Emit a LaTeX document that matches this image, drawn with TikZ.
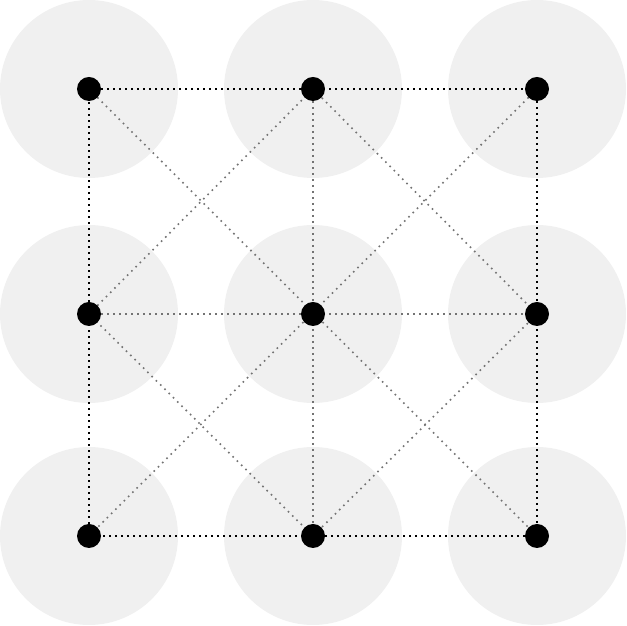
\documentclass[tikz,border=0pt]{standalone}
\begin{document}
\begin{tikzpicture}[x=1pt,y=1pt,
  halo/.style={circle,fill=black!6,draw=none,minimum size=178pt,inner sep=0pt},
  dotnode/.style={circle,fill=black,draw=none,minimum size=24pt,inner sep=0pt},
  outer/.style={black,line width=1.6pt,dash pattern=on 1.6pt off 4.4pt},
  inner/.style={black!55,line width=1.6pt,dash pattern=on 1.6pt off 4.4pt}]
\useasboundingbox (0,0) rectangle (627,626);
\foreach \n/\x/\y in {a/89/537,b/313/537,c/537/537,d/89/312,e/313/312,f/537/312,g/89/90,h/313/90,i/537/90}{
  \node[halo] (h\n) at (\x,\y) {};
}
\foreach \n/\x/\y in {a/89/537,b/313/537,c/537/537,d/89/312,e/313/312,f/537/312,g/89/90,h/313/90,i/537/90}{
  \coordinate (\n) at (\x,\y);
}
\draw[inner] (d) -- (f);
\draw[inner] (b) -- (h);
\draw[inner] (a) -- (i);
\draw[inner] (c) -- (g);
\draw[inner] (d) -- (b) -- (f) -- (h) -- cycle;
\draw[outer] (a) -- (c);
\draw[outer] (c) -- (i);
\draw[outer] (i) -- (g);
\draw[outer] (g) -- (a);
\foreach \n in {a,b,c,d,e,f,g,h,i}{
  \node[dotnode] (d\n) at (\n) {};
}
\end{tikzpicture}
\end{document}
